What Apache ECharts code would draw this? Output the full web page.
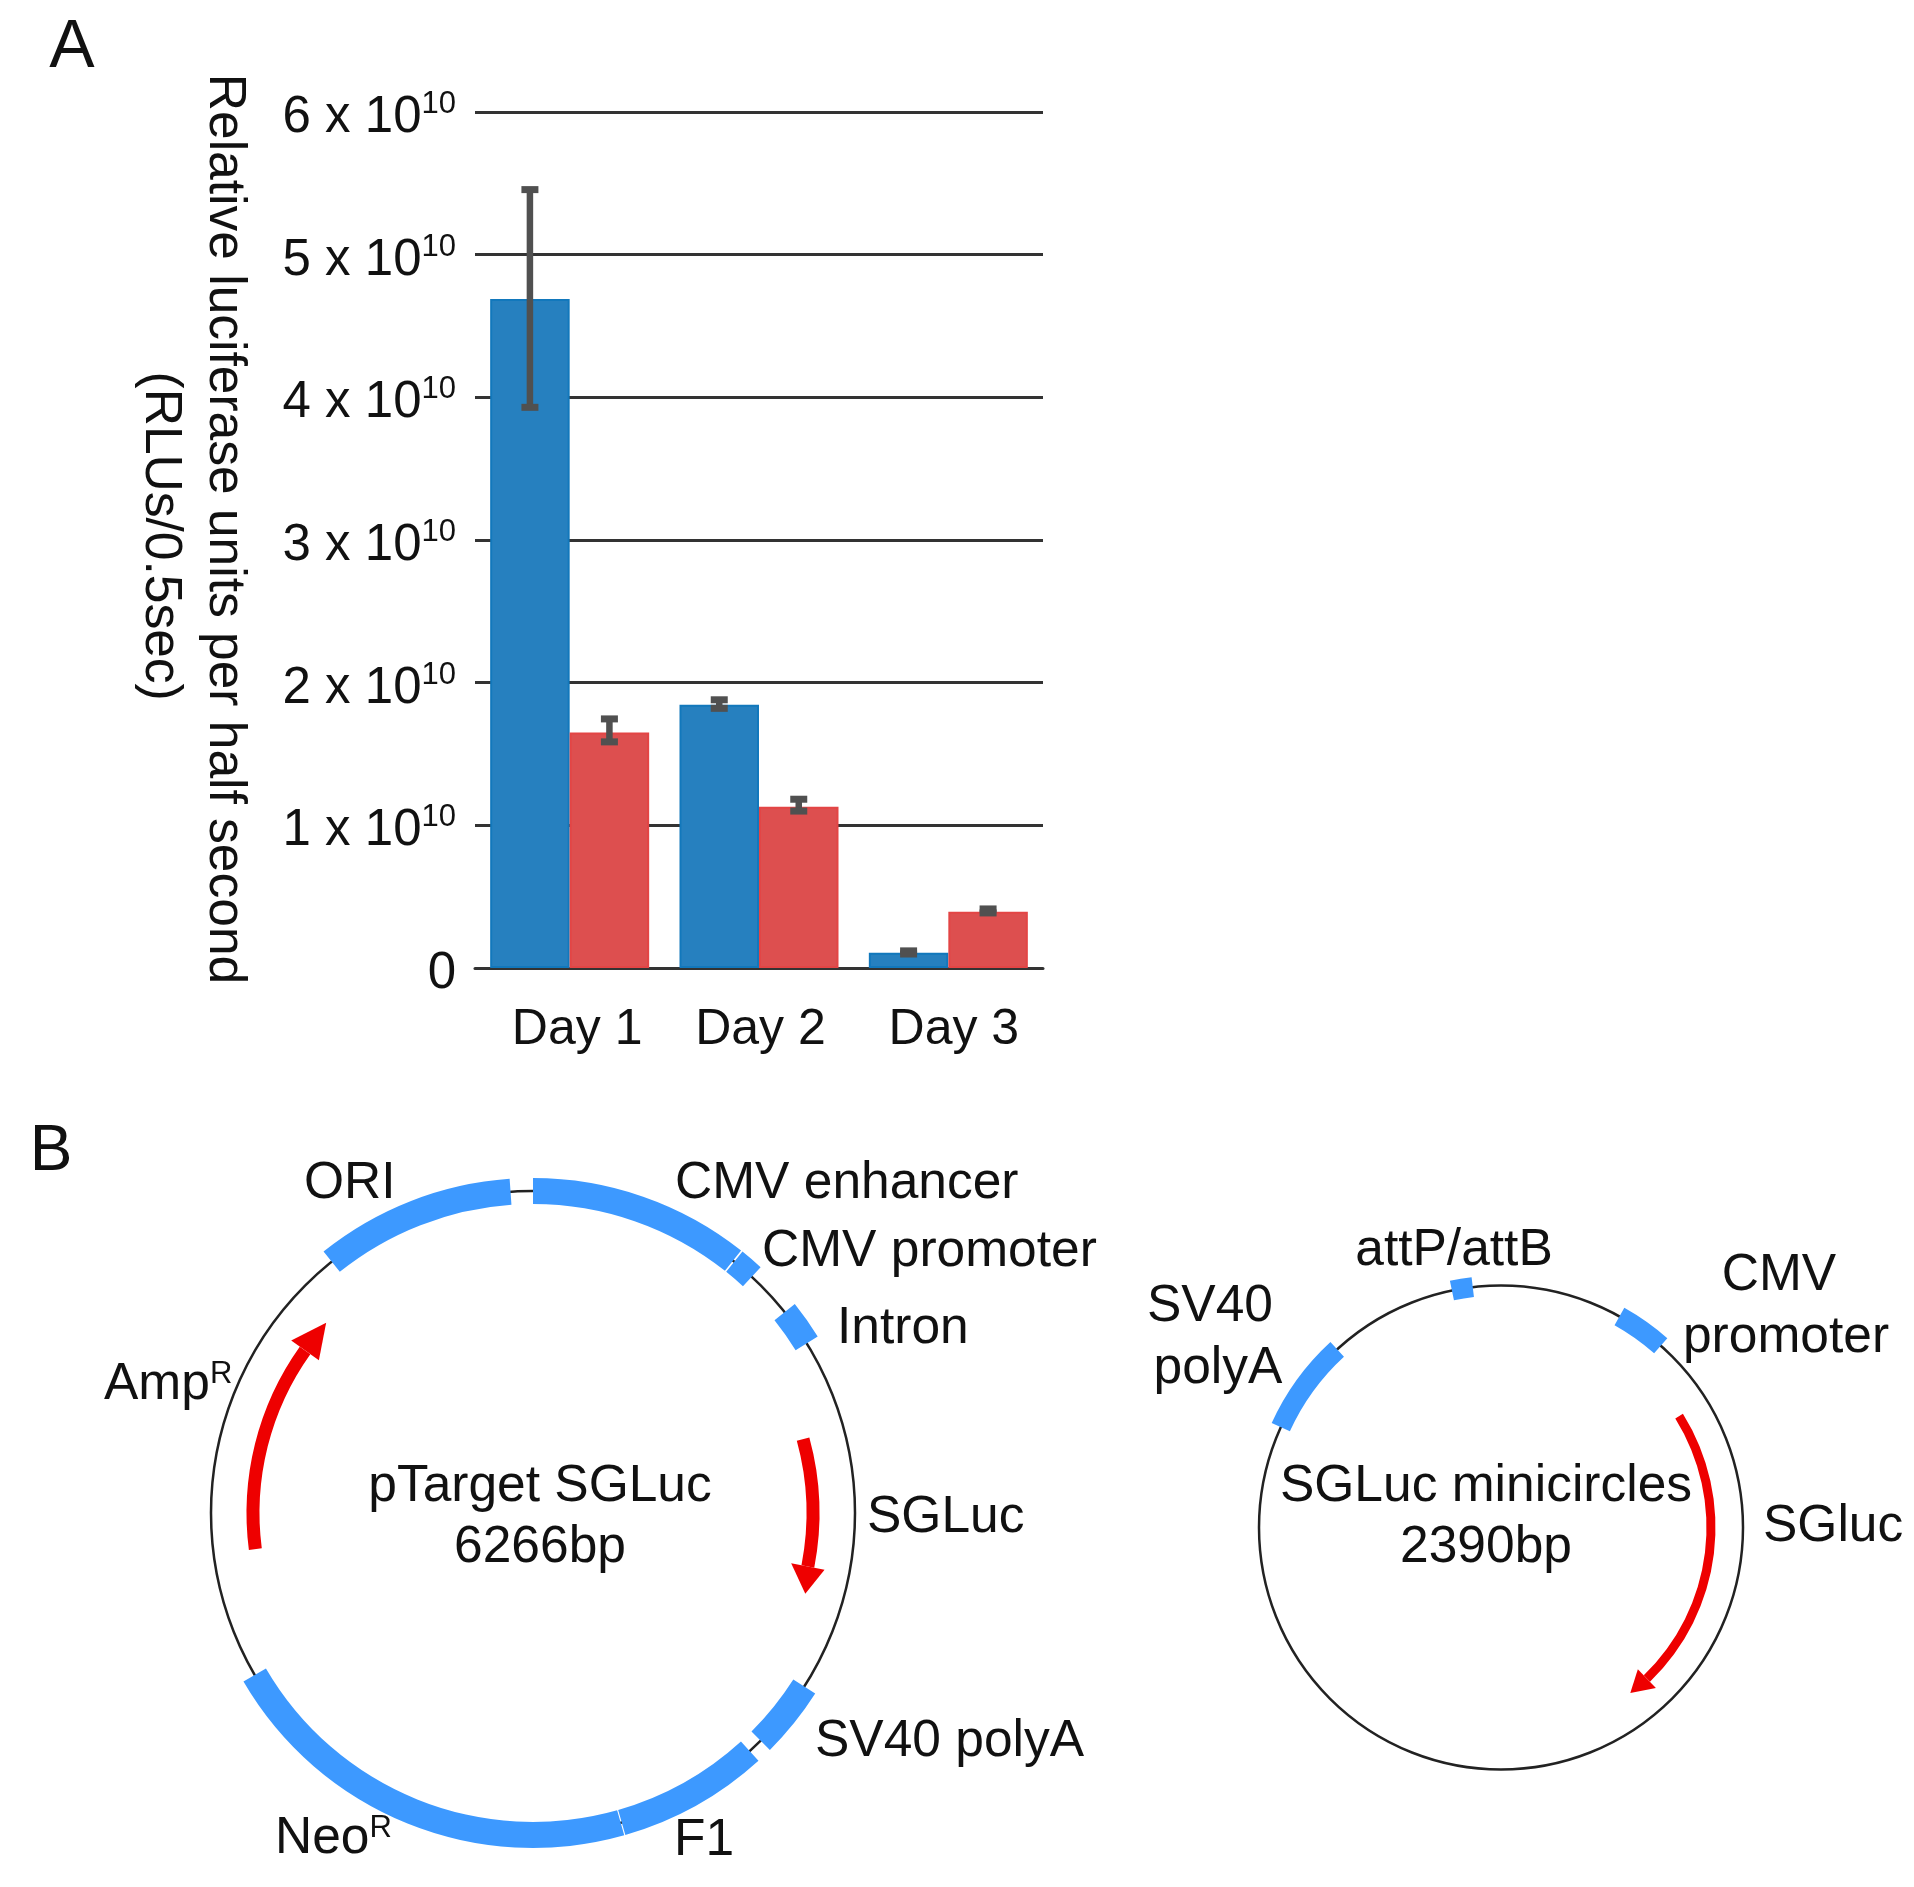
<!DOCTYPE html>
<html>
<head>
<meta charset="utf-8">
<style>html,body{margin:0;padding:0;background:#fff}#c{width:1914px;height:1887px}</style>
<script src="https://cdn.jsdelivr.net/npm/echarts@6/dist/echarts.min.js"></script>
</head>
<body>
<div id="c"></div>
<script>
// ---------- Panel A data ----------
const days = ['Day 1', 'Day 2', 'Day 3'];
const blueValues = [4.69e10, 1.845e10, 0.107e10];
const redValues = [1.65e10, 1.13e10, 0.395e10];
const blueErrLow = [3.93e10, 1.82e10, 0.098e10];
const blueErrHigh = [5.456e10, 1.88e10, 0.12e10];
const redErrLow = [1.585e10, 1.10e10, 0.386e10];
const redErrHigh = [1.746e10, 1.183e10, 0.414e10];
const yTickLabels = ['0', '1 x 10', '2 x 10', '3 x 10', '4 x 10', '5 x 10', '6 x 10'];
const yTitle = ['Relative luciferase units per half second', '(RLUs/0.5sec)'];

// ---------- Panel B data (degrees clockwise from 12 o'clock) ----------
const targetFeatures = ['ORI', 'CMV enhancer', 'CMV promoter', 'Intron', 'SV40 polyA', 'F1', 'NeoR'];
const targetStartDeg = [321.3, 0, 38.7, 51.4, 122.6, 137.7, 164.2];
const targetEndDeg = [356, 38.4, 42.8, 58.2, 135, 164, 239.8];
const targetArrowNames = ['SGLuc', 'AmpR'];
const targetArrowStartDeg = [74.7, 262.6];
const targetArrowBaseDeg = [101, 305.5];
const targetArrowTipDeg = [106.5, 312.6];
const targetArrowTipRadius = [284, 281];

const miniFeatures = ['attP/attB', 'SV40 polyA', 'CMV promoter'];
const miniStartDeg = [348.3, 294.5, 29.3];
const miniEndDeg = [353.3, 317.4, 41.3];
const miniArrowNames = ['SGluc'];
const miniArrowStartDeg = [58];
const miniArrowBaseDeg = [136];
const miniArrowTipDeg = [142];
const miniArrowTipRadius = [210];

// ---------- Text ----------
const F = '"Liberation Sans", Arial, sans-serif';
const INK = '#111111';
const BLUE = '#2680bf', BLUE_EDGE = '#1278bc', RED = '#dd4f4f', RED_EDGE = '#e34545', ERR = '#505050';
const ARC_BLUE = '#3d99ff', ARC_RED = '#ee0000';

const leftLabels = [
  ['ORI', 304, 1184], ['CMV enhancer', 675, 1184], ['CMV promoter', 762, 1252], ['Intron', 837, 1329],
  ['SGLuc', 867, 1518], ['SV40 polyA', 815, 1742], ['F1', 674, 1841],
  ['{n|Neo}{s|R}', 275, 1839], ['{n|Amp}{s|R}', 104, 1385], ['SGluc', 1763, 1527]
];
const centerLabels = [
  ['pTarget SGLuc', 540, 1487], ['6266bp', 540, 1548], ['attP/attB', 1454, 1251],
  ['CMV', 1779, 1276], ['promoter', 1786, 1338], ['SV40', 1210, 1307], ['polyA', 1218, 1369],
  ['SGLuc minicircles', 1486, 1487], ['2390bp', 1486, 1548]
];
const textRich = {
  n: { fontSize: 51.5, fontFamily: F, fill: INK, color: INK },
  s: { fontSize: 31, fontFamily: F, fill: INK, color: INK, verticalAlign: 'top' }
};
function label(t, x, y, align, size) {
  return {
    type: 'text', x: x, y: y, silent: true,
    style: {
      text: t, fontSize: size || 51.5, fontFamily: F, fill: INK,
      textAlign: align, textVerticalAlign: 'middle', rich: textRich
    }
  };
}

// ---------- Mark renderers ----------
function errorSeries(low, high, offset) {
  return {
    type: 'custom', coordinateSystem: 'cartesian2d', z: 5,
    data: days.map((d, i) => [i, low[i], high[i]]),
    encode: { x: 0, y: [1, 2] },
    renderItem(params, api) {
      const lo = api.coord([api.value(0), api.value(1)]);
      const hi = api.coord([api.value(0), api.value(2)]);
      const x = lo[0] + offset;
      const st = { stroke: ERR, lineWidth: 6.5, fill: null };
      const cap = { stroke: ERR, lineWidth: 7, fill: null };
      return {
        type: 'group', children: [
          { type: 'line', shape: { x1: x, y1: lo[1], x2: x, y2: hi[1] }, style: st },
          { type: 'line', shape: { x1: x - 8.5, y1: lo[1], x2: x + 8.5, y2: lo[1] }, style: cap },
          { type: 'line', shape: { x1: x - 8.5, y1: hi[1], x2: x + 8.5, y2: hi[1] }, style: cap }
        ]
      };
    }
  };
}
function angleOf(p, c) { return Math.atan2(p[1] - c.cy, p[0] - c.cx); }

function backboneSeries(polarIndex, r) {
  return {
    type: 'custom', coordinateSystem: 'polar', polarIndex: polarIndex, z: 2,
    data: [[r, 0]],
    renderItem(params, api) {
      const c = params.coordSys;
      return { type: 'circle', shape: { cx: c.cx, cy: c.cy, r: api.value(0) }, style: { fill: null, stroke: '#222222', lineWidth: 2.5 } };
    }
  };
}
function arcSeries(polarIndex, starts, ends, r, thick) {
  return {
    type: 'custom', coordinateSystem: 'polar', polarIndex: polarIndex, z: 3,
    data: starts.map((s, i) => [r, s, ends[i]]),
    renderItem(params, api) {
      const c = params.coordSys;
      const rr = api.value(0);
      const a0 = angleOf(api.coord([rr, api.value(1)]), c);
      const a1 = angleOf(api.coord([rr, api.value(2)]), c);
      return {
        type: 'sector',
        shape: { cx: c.cx, cy: c.cy, r0: rr - thick / 2, r: rr + thick / 2, startAngle: a0, endAngle: a1, clockwise: true },
        style: { fill: ARC_BLUE }
      };
    }
  };
}
function arrowSeries(polarIndex, starts, bases, tips, tipRadii, r, shaft, head) {
  return {
    type: 'custom', coordinateSystem: 'polar', polarIndex: polarIndex, z: 4,
    data: starts.map((s, i) => [r, s, bases[i], tips[i], tipRadii[i]]),
    renderItem(params, api) {
      const c = params.coordSys;
      const rr = api.value(0), s = api.value(1), b = api.value(2), t = api.value(3), tr = api.value(4);
      const a0 = angleOf(api.coord([rr, s]), c), a1 = angleOf(api.coord([rr, b]), c);
      const cw = t > s;
      return {
        type: 'group', children: [
          {
            type: 'sector',
            shape: { cx: c.cx, cy: c.cy, r0: rr - shaft / 2, r: rr + shaft / 2, startAngle: a0, endAngle: a1, clockwise: cw },
            style: { fill: ARC_RED }
          },
          {
            type: 'polygon',
            shape: { points: [api.coord([rr - head / 2, b]), api.coord([rr + head / 2, b]), api.coord([tr, t])] },
            style: { fill: ARC_RED }
          }
        ]
      };
    }
  };
}
function hiddenAngle(i) {
  return { polarIndex: i, type: 'value', min: 0, max: 360, startAngle: 90, clockwise: true, show: false };
}
function hiddenRadius(i, max) {
  return { polarIndex: i, type: 'value', min: 0, max: max, show: false };
}

// ---------- Chart ----------
const dayStyle = { fontSize: 50, fontFamily: F, color: INK };
const chart = echarts.init(document.getElementById('c'), null, { renderer: 'canvas' });
chart.setOption({
  animation: false,
  backgroundColor: '#ffffff',
  textStyle: { fontFamily: F },
  grid: { left: 475, right: 871, top: 112, bottom: 919, containLabel: false },
  xAxis: {
    type: 'category', data: days,
    axisTick: { show: false },
    axisLine: { lineStyle: { color: '#333', width: 3 } },
    axisLabel: {
      fontSize: 50, fontFamily: F, color: INK, margin: 37, interval: 0, hideOverlap: false,
      formatter(v, i) { return '{d' + i + '|' + v + '}'; },
      rich: {
        d0: Object.assign({ padding: [0, 0, 0, 15] }, dayStyle),
        d1: Object.assign({ padding: [0, 0, 0, 3] }, dayStyle),
        d2: Object.assign({ padding: [0, 0, 0, 11] }, dayStyle)
      }
    }
  },
  yAxis: {
    type: 'value', min: 0, max: 6e10, interval: 1e10,
    name: yTitle.join('\n '), nameLocation: 'middle', nameRotate: -90, nameGap: 219,
    nameTextStyle: { fontSize: 51.5, fontFamily: F, color: INK, lineHeight: 64, align: 'center', padding: [0, 22, 0, 0] },
    axisLine: { show: false }, axisTick: { show: false },
    splitLine: { lineStyle: { color: '#333', width: 3 } },
    axisLabel: {
      margin: 19, padding: [12, 0, 0, 0],
      formatter(v) {
        const t = yTickLabels[Math.round(v / 1e10)];
        return v === 0 ? '{b|' + t + '}' : '{b|' + t + '}{s|10}';
      },
      rich: {
        b: { fontSize: 51, fontFamily: F, color: INK, lineHeight: 58 },
        s: { fontSize: 31, fontFamily: F, color: INK, verticalAlign: 'top', lineHeight: 46 }
      }
    }
  },
  polar: [
    { center: [533, 1513], radius: 360 },
    { center: [1501, 1527.5], radius: 300 }
  ],
  angleAxis: [hiddenAngle(0), hiddenAngle(1)],
  radiusAxis: [hiddenRadius(0, 360), hiddenRadius(1, 300)],
  series: [
    { type: 'bar', name: 'Blue', data: blueValues, barWidth: 79.5, barGap: '0%', itemStyle: { color: BLUE, borderColor: BLUE_EDGE, borderWidth: 2 }, z: 3 },
    { type: 'bar', name: 'Red', data: redValues, barWidth: 79.5, barGap: '0%', itemStyle: { color: RED, borderColor: RED_EDGE, borderWidth: 2 }, z: 3 },
    errorSeries(blueErrLow, blueErrHigh, -39.75),
    errorSeries(redErrLow, redErrHigh, 39.75),
    backboneSeries(0, 322),
    arcSeries(0, targetStartDeg, targetEndDeg, 322, 26),
    arrowSeries(0, targetArrowStartDeg, targetArrowBaseDeg, targetArrowTipDeg, targetArrowTipRadius, 280, 13, 34),
    backboneSeries(1, 242),
    arcSeries(1, miniStartDeg, miniEndDeg, 242, 20),
    arrowSeries(1, miniArrowStartDeg, miniArrowBaseDeg, miniArrowTipDeg, miniArrowTipRadius, 210, 9, 26)
  ],
  graphic: [
    label('A', 72, 48, 'center', 68),
    label('B', 51, 1152, 'center', 64)
  ].concat(
    leftLabels.map(l => label(l[0], l[1], l[2], 'left')),
    centerLabels.map(l => label(l[0], l[1], l[2], 'center'))
  )
});
</script>
</body>
</html>
